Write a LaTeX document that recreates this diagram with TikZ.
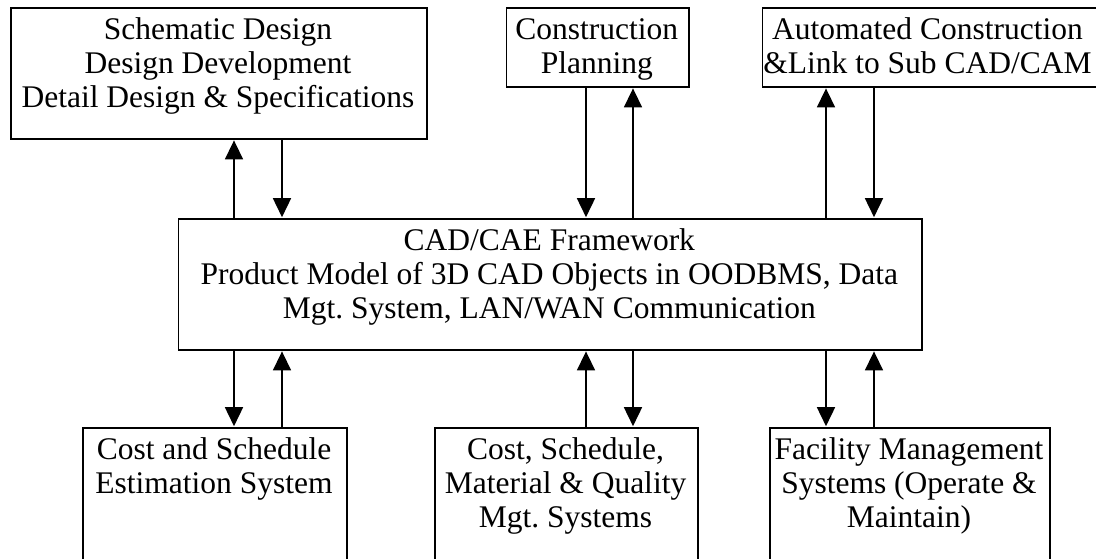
\documentclass[tikz,border=0pt]{standalone}
\usepackage{fontspec}
\setmainfont{Liberation Serif}
\usetikzlibrary{arrows.meta}
\begin{document}
\begin{tikzpicture}[x=1pt,y=1pt,
  box/.style={draw, line width=1.6pt, rectangle, inner sep=0pt, anchor=north west},
  % multi-line labels: the base anchor sits on the last line's baseline
  lbl/.style={align=center, inner sep=0pt, anchor=base,
              font=\fontsize{31.5}{34}\selectfont\frenchspacing},
  arr/.style={line width=1.6pt, shorten >=0.8pt,
              -{Triangle[length=19pt,width=18pt]}}
]
\useasboundingbox (0,0) rectangle (1096,-558);
\clip (0,0) rectangle (1096,-558);

% boxes
\node[box, minimum width=416pt,   minimum height=131pt] (design) at (10,-7) {};
\node[box, minimum width=182.5pt, minimum height=79pt]  (plan)   at (505.5,-7) {};
\node[box, minimum width=338.3pt, minimum height=79pt]  (auto)   at (761.7,-7) {};
\node[box, minimum width=743.3pt, minimum height=131pt] (frame)  at (177.7,-218) {};
\node[box, minimum width=264pt,   minimum height=136pt] (est)    at (82,-427) {};
\node[box, minimum width=263pt,   minimum height=136pt] (mgt)    at (434,-427) {};
\node[box, minimum width=280pt,   minimum height=136pt] (fac)    at (769,-427) {};

% texts
\node[lbl] (designtxt) at (218,-107) {Schematic Design\\Design Development\\Detail Design \& Specifications};
\node[lbl] (plantxt) at (596.75,-73) {Construction\\Planning};
\node[lbl] (autotxt) at (927.5,-73) {Automated Construction\\\&Link to Sub CAD/CAM};
\node[lbl] (frametxt) at (549.35,-318) {CAD/CAE Framework\\Product Model of 3D CAD Objects in OODBMS, Data\\Mgt. System, LAN/WAN Communication};
\node[lbl] (esttxt) at (214,-493) {Cost and Schedule\\Estimation System};
\node[lbl] (mgttxt) at (565.5,-527) {Cost, Schedule,\\Material \& Quality\\Mgt. Systems};
\node[lbl] (factxt) at (909,-527) {Facility Management\\Systems (Operate \&\\Maintain)};

% connector columns
\coordinate (c1) at (234,0);
\coordinate (c2) at (282,0);
\coordinate (c3) at (586,0);
\coordinate (c4) at (633,0);
\coordinate (c5) at (826,0);
\coordinate (c6) at (874,0);

% upper connectors
\draw[arr] (frame.north -| c1) -- (design.south -| c1);
\draw[arr] (design.south -| c2) -- (frame.north -| c2);
\draw[arr] (plan.south -| c3) -- (frame.north -| c3);
\draw[arr] (frame.north -| c4) -- (plan.south -| c4);
\draw[arr] (frame.north -| c5) -- (auto.south -| c5);
\draw[arr] (auto.south -| c6) -- (frame.north -| c6);

% lower connectors
\draw[arr] (frame.south -| c1) -- (est.north -| c1);
\draw[arr] (est.north -| c2) -- (frame.south -| c2);
\draw[arr] (mgt.north -| c3) -- (frame.south -| c3);
\draw[arr] (frame.south -| c4) -- (mgt.north -| c4);
\draw[arr] (frame.south -| c5) -- (fac.north -| c5);
\draw[arr] (fac.north -| c6) -- (frame.south -| c6);
\end{tikzpicture}
\end{document}
